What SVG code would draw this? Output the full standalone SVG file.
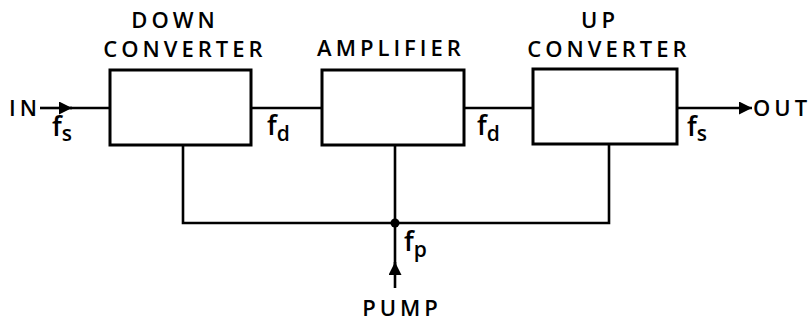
<svg xmlns="http://www.w3.org/2000/svg" width="810" height="321" viewBox="0 0 810 321">
<style>
.box{fill:none;stroke:#000;stroke-width:3}
.ln{fill:none;stroke:#000;stroke-width:2.6}
.t{font-family:"Open Sans","Liberation Sans",Arial,sans-serif;font-size:22px;font-weight:600;fill:#000;letter-spacing:4px}
.f{font-family:"Open Sans","Liberation Sans",Arial,sans-serif;font-size:27px;font-weight:600;fill:#000}
.sub{font-size:21px}
</style>
<defs>
<marker id="ar" viewBox="0 0 10 10" refX="10" refY="5" markerWidth="5.5" markerHeight="5" orient="auto" markerUnits="strokeWidth">
<path d="M0,0 L10,5 L0,10 z" fill="#000"/>
</marker>
</defs>
<rect width="810" height="321" fill="#fff"/>
<g id="connectors">
<line class="ln" x1="40" y1="108" x2="72" y2="108" marker-end="url(#ar)"/>
<line class="ln" x1="70" y1="108" x2="110" y2="108"/>
<line class="ln" x1="251" y1="108" x2="322" y2="108"/>
<line class="ln" x1="464" y1="108" x2="533" y2="108"/>
<line class="ln" x1="677" y1="108" x2="752" y2="108" marker-end="url(#ar)"/>
<polyline class="ln" points="183,145 183,223 609,223 609,145"/>
<line class="ln" x1="395" y1="145" x2="395" y2="223"/>
<line class="ln" x1="395" y1="288" x2="395" y2="262" marker-end="url(#ar)"/>
<line class="ln" x1="395" y1="266" x2="395" y2="223"/>
<circle cx="395" cy="223" r="4.5" fill="#000"/>
<text class="t" x="9" y="116" letter-spacing="2">IN</text>
<text class="t" x="753" y="116" font-size="20" letter-spacing="0">OUT</text>
<text class="t" x="402" y="316" text-anchor="middle" letter-spacing="3">PUMP</text>
<text class="f" x="52" y="136">f<tspan class="sub" dy="5">s</tspan></text>
<text class="f" x="267" y="135">f<tspan class="sub" dy="6">d</tspan></text>
<text class="f" x="477" y="135">f<tspan class="sub" dy="6">d</tspan></text>
<text class="f" x="687" y="136">f<tspan class="sub" dy="5">s</tspan></text>
<text class="f" x="404" y="251">f<tspan class="sub" dy="6">p</tspan></text>
</g>
<g id="down">
<rect class="box" x="110" y="70" width="141" height="75"/>
<text class="t" x="175" y="28" text-anchor="middle" letter-spacing="3">DOWN</text>
<text class="t" x="185" y="57" text-anchor="middle">CONVERTER</text>
</g>
<g id="amp">
<rect class="box" x="322" y="70" width="142" height="75"/>
<text class="t" x="391" y="56" text-anchor="middle" letter-spacing="5">AMPLIFIER</text>
</g>
<g id="up">
<rect class="box" x="533" y="69" width="144" height="75"/>
<text class="t" x="600" y="28" text-anchor="middle" letter-spacing="3">UP</text>
<text class="t" x="609" y="57" text-anchor="middle">CONVERTER</text>
</g>
</svg>
